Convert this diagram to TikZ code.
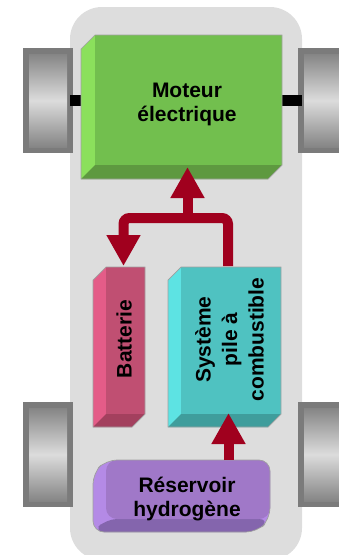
\documentclass[tikz,border=0pt]{standalone}
\usepackage{fontspec}
\setmainfont{Liberation Sans}
\usetikzlibrary{arrows.meta}
\definecolor{carbody}{HTML}{DDDDDD}
\definecolor{arrowred}{HTML}{A0001E}
\definecolor{motF}{HTML}{72BF4E}\definecolor{motL}{HTML}{8BE05C}\definecolor{motB}{HTML}{5E9940}
\definecolor{batF}{HTML}{C04F72}\definecolor{batL}{HTML}{E45C88}\definecolor{batB}{HTML}{A3405E}
\definecolor{fcF}{HTML}{4FC2C1}\definecolor{fcL}{HTML}{5DE3E3}\definecolor{fcB}{HTML}{3F9D9C}
\definecolor{tkF}{HTML}{A078C8}\definecolor{tkL}{HTML}{B48AE6}\definecolor{tkB}{HTML}{8465AD}
\definecolor{edge}{HTML}{A0A0A0}
\definecolor{wheelframe}{HTML}{7B7B7B}
\definecolor{wheeldark}{HTML}{858585}
\definecolor{wheellight}{HTML}{DCDCDC}
% #1 x1, #2 y1, #3 x2, #4 y2, #5 depth, #6 front, #7 left, #8 bottom, #9 extra options
\newcommand\bevbox[9]{%
  \fill[#7,#9] (#1,{#2+#5}) -- ({#1+#5},#2) -- (#3,#2) -- (#3,{#4-#5}) -- ({#3-#5},#4) -- (#1,#4) -- cycle;
  \fill[#8,#9] (#1,#4) -- ({#1+#5},{#4-#5}) -- (#3,{#4-#5}) -- ({#3-#5},#4) -- cycle;
  \fill[#6,#9] ({#1+#5},#2) -- (#3,#2) -- (#3,{#4-#5}) -- ({#1+#5},{#4-#5}) -- cycle;
  \draw[edge,line width=0.7pt,#9] (#1,{#2+#5}) -- ({#1+#5},#2) -- (#3,#2) -- (#3,{#4-#5}) -- ({#3-#5},#4) -- (#1,#4) -- cycle;
}
\newcommand\wheel[4]{%
  \fill[wheelframe] (#1,#2) rectangle (#3,#4);
  \shade[top color=wheeldark, bottom color=wheeldark, middle color=wheellight] ({#1+6},{#2+6}) rectangle ({#3-6},{#4-6});
}
\tikzset{
  lbl/.style={font=\bfseries\fontsize{21}{24}\selectfont, align=center, text=black, inner sep=0pt},
  arr/.style={draw=arrowred, line width=10pt, -{Triangle[width=32pt,length=31pt]}},
}
\begin{document}
\begin{tikzpicture}[x=1pt,y=-1pt]
\useasboundingbox (0,0) rectangle (339,555);
\begin{scope}
\clip (0,0) rectangle (339,555);
% car body
\fill[carbody, rounded corners=32pt] (70,7) rectangle (302,560);
% wheels
\wheel{23}{48}{73}{153}
\wheel{298}{48}{348}{153}
\wheel{23}{402}{73}{507}
\wheel{298}{402}{348}{507}
% axles
\fill[black] (70,95) rectangle (82,106);
\fill[black] (281,95) rectangle (302,106);
\end{scope}
% boxes
\bevbox{81}{35}{282}{179}{14}{motF}{motL}{motB}{}
\bevbox{93}{267}{145}{427}{13}{batF}{batL}{batB}{}
\bevbox{168}{267}{281}{427}{13}{fcF}{fcL}{fcB}{}
\bevbox{93}{460}{270}{532}{13}{tkF}{tkL}{tkB}{rounded corners=11pt}
% named anchor points
\coordinate (motorIn) at (187.5,167);
\coordinate (batIn) at (123.5,266);
\coordinate (fcOut) at (228,266);
\coordinate (fcIn) at (228.5,413);
\coordinate (tankOut) at (228.5,460);
\coordinate (split) at (187.5,222);
% labels
\node[lbl] (motor) at (187,104) {Moteur\\électrique};
\node[lbl, rotate=90] (bat) at (124,339) {Batterie};
\node[lbl, rotate=90, font=\bfseries\fontsize{21}{26.5}\selectfont] (fc) at (229.5,339.5) {Système\\pile à\\combustible};
\node[lbl] (tank) at (187,499) {Réservoir\\hydrogène};
% connectors
\draw[arr, rounded corners=6pt] (fcOut) -- (228,218) -- (123.5,218) -- (batIn);
\draw[arr] (split) -- (motorIn);
\draw[arr] (tankOut) -- (fcIn);
\end{tikzpicture}
\end{document}
